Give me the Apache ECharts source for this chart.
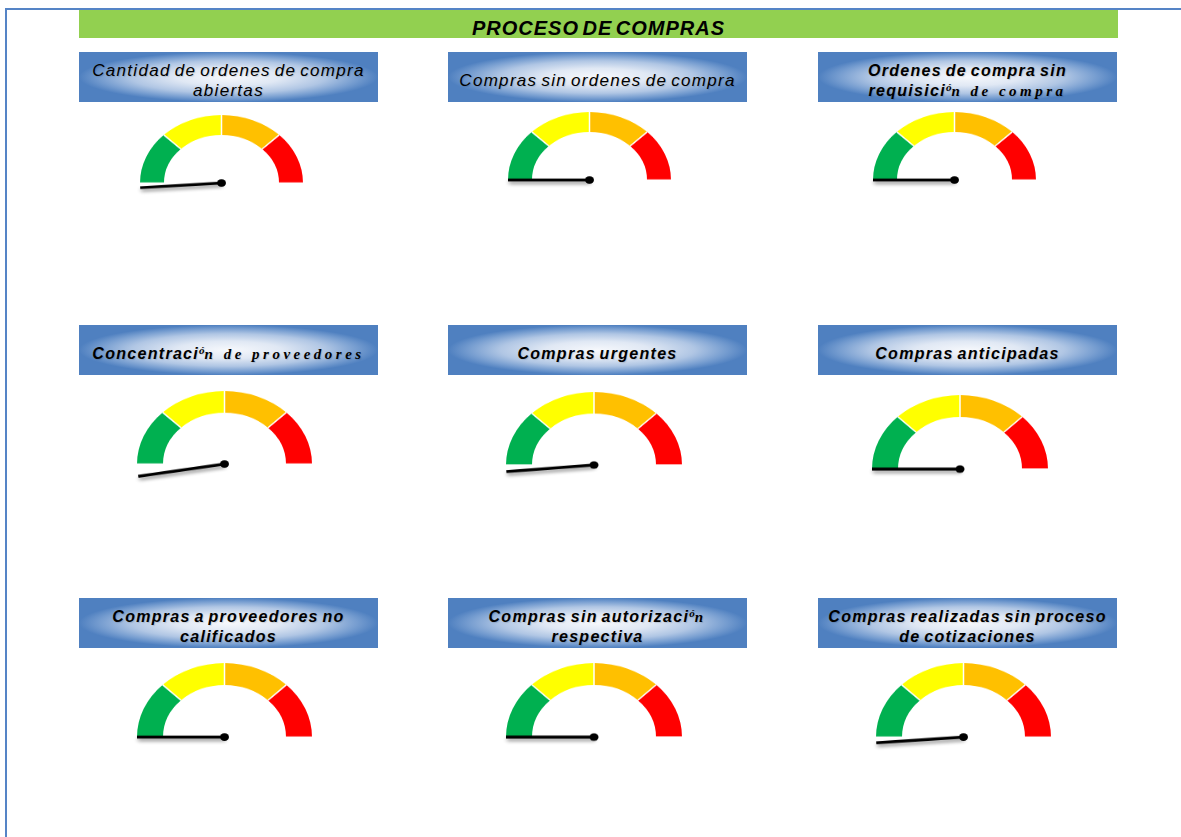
<!DOCTYPE html>
<html>
<head>
<meta charset="utf-8">
<title>Proceso de compras</title>
<script src="https://cdn.jsdelivr.net/npm/echarts@6/dist/echarts.min.js"></script>
<style>
  body {
    margin: 0;
    width: 1181px;
    height: 837px;
    background: #fff;
    overflow: hidden;
    position: relative;
    font-family: "Liberation Sans", Arial, sans-serif;
  }
  .frame-top { position: absolute; left: 5px; top: 8px; right: 0; height: 2px; background: #5584c6; }
  .frame-left { position: absolute; left: 5px; top: 8px; width: 2px; bottom: 0; background: #5584c6; }
  .header { position: absolute; left: 79px; top: 10px; width: 1039px; height: 28px; background: #92d050; }
  .header-text {
    position: absolute; left: 79px; width: 1039px; top: 18px; height: 20px;
    line-height: 20px; font-size: 20px; font-weight: bold; font-style: italic;
    letter-spacing: 1px; word-spacing: -3px; text-align: center; color: #000;
  }
  .box {
    position: absolute;
    width: 299px;
    height: 50px;
    box-sizing: border-box;
    background: radial-gradient(closest-side, #f6f8fc 0%, #e0e8f4 35%, #b0c6e4 65%, #769dd0 86%, #4f80c0 100%);
    background-color: #4f80c0;
    text-align: center;
    font-style: italic;
    color: #000;
    line-height: 20px;
    white-space: nowrap;
    text-shadow: 1px 1px 1px rgba(0, 0, 0, 0.12);
  }
  .box.plain { font-size: 17px; letter-spacing: 1.3px; word-spacing: -2px; }
  .box.bold { font-size: 16px; font-weight: bold; letter-spacing: 1.3px; word-spacing: -2px; }
  .box .sup { font-family: "Liberation Serif", serif; font-size: 11px; vertical-align: 5px; letter-spacing: 0; line-height: 0; }
  .box .ser { font-family: "Liberation Serif", serif; font-size: 15px; letter-spacing: 3.5px; word-spacing: 0; line-height: 0; }
  .gauge { position: absolute; transform-origin: 0 0; }
</style>
</head>
<body>
<div class="frame-top"></div>
<div class="frame-left"></div>
<div class="header"></div>
<div class="header-text"></div>
<div id="boxes"></div>
<div id="gauges"></div>
<script>
// Chart data
const headerTitle = 'PROCESO DE COMPRAS';
const titles = [
  ['Cantidad de ordenes de compra', 'abiertas'],
  ['Compras sin ordenes de compra'],
  ['Ordenes de compra sin', 'requisición de compra'],
  ['Concentración de proveedores'],
  ['Compras urgentes'],
  ['Compras anticipadas'],
  ['Compras a proveedores no', 'calificados'],
  ['Compras sin autorización', 'respectiva'],
  ['Compras realizadas sin proceso', 'de cotizaciones']
];
const boldTitle = [false, false, true, true, true, true, true, true, true];
const needleValues = [-2.2, 0, 0, -5.4, -2.9, 0, 0, 0, -2.5];
const bandLimits = [25, 50, 75, 100];

// Styles
const bandColors = ['#00B050', '#FFFF00', '#FFC000', '#FF0000'];

// Layout: box rows / cols, gauge centre x, centre y, radius x, radius y
const boxTops = [52, 325, 598];
const boxLefts = [79, 448, 818];
const gaugeLayout = [
  [221.5, 183.5, 81.5, 68], [589.5, 180.5, 81.5, 68], [954.5, 180.5, 81.5, 68],
  [224.5, 464.5, 87.5, 73], [594, 464.5, 88, 73], [960, 469, 88, 74],
  [224.5, 737.5, 87.5, 74], [594, 737.5, 88, 74], [963.5, 737.5, 87.5, 74]
];

document.querySelector('.header-text').textContent = headerTitle;

// Lines with "ó" come out in the reference with a raised accent and a serif tail
const lineHtml = (line, bold) => {
  const i = line.indexOf('ó');
  if (!bold || i < 0) return line;
  return line.slice(0, i) + '<span class="sup">ó</span><span class="ser">' + line.slice(i + 1) + '</span>';
};

const boxesEl = document.getElementById('boxes');
titles.forEach((lines, i) => {
  const div = document.createElement('div');
  div.className = 'box ' + (boldTitle[i] ? 'bold' : 'plain');
  div.style.top = boxTops[Math.floor(i / 3)] + 'px';
  div.style.left = boxLefts[i % 3] + 'px';
  div.style.paddingTop = lines.length > 1 ? '9px' : '19px';
  div.innerHTML = lines.map(l => lineHtml(l, boldTitle[i])).join('<br>');
  boxesEl.appendChild(div);
});

const gaugeOption = (value, r) => {
  const rw = Math.round(r * 0.294);
  const center = [r + 10, r + 6];
  const off = { show: false };
  return {
    animation: false,
    series: [
      {
        type: 'gauge',
        center: center,
        radius: r,
        startAngle: 180,
        endAngle: 0,
        min: 0,
        max: 100,
        splitNumber: bandLimits.length,
        axisLine: {
          lineStyle: {
            width: rw,
            color: bandLimits.map((l, k) => [l / 100, bandColors[k]])
          }
        },
        splitLine: { show: true, length: rw, distance: -rw, lineStyle: { color: '#fff', width: 1.5 } },
        axisTick: off, axisLabel: off, pointer: off, anchor: off, title: off, detail: off,
        data: [{ value: 0 }]
      },
      {
        // needle: scale starts below the left end so small negative values dip under the horizontal
        type: 'gauge',
        center: center,
        radius: r,
        startAngle: 216,
        endAngle: 0,
        min: -20,
        max: 100,
        axisLine: off, splitLine: off, axisTick: off, axisLabel: off, title: off, detail: off,
        pointer: {
          show: true,
          icon: 'rect',
          length: '100%',
          width: 3.5,
          itemStyle: {
            color: '#000',
            shadowColor: 'rgba(0,0,0,0.45)',
            shadowBlur: 4,
            shadowOffsetX: 1,
            shadowOffsetY: 3
          }
        },
        anchor: { show: true, showAbove: true, size: 9, itemStyle: { color: '#000', borderWidth: 0 } },
        data: [{ value: value }]
      }
    ]
  };
};

const gaugesEl = document.getElementById('gauges');
gaugeLayout.forEach(([cx, cy, rx, ry], i) => {
  const k = ry / rx;
  const div = document.createElement('div');
  div.className = 'gauge';
  div.style.width = (2 * rx + 20) + 'px';
  div.style.height = (rx + 30) + 'px';
  div.style.left = (cx - rx - 10) + 'px';
  div.style.top = (cy - (rx + 6) * k) + 'px';
  div.style.transform = 'scaleY(' + k + ')';
  gaugesEl.appendChild(div);
  const chart = echarts.init(div);
  chart.setOption(gaugeOption(needleValues[i], rx));
});
</script>
</body>
</html>
